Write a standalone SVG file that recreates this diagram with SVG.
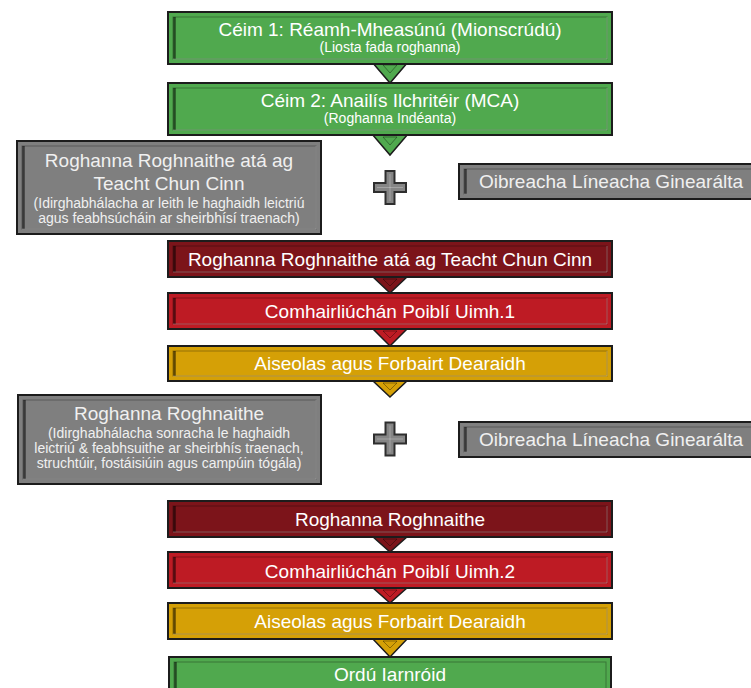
<svg xmlns="http://www.w3.org/2000/svg" width="751" height="688" viewBox="0 0 751 688">
<style>
.o{stroke:#1c1c1c;stroke-width:2}
.g{fill:#50a94e}.dr{fill:#7c141a}.r{fill:#be1b24}.y{fill:#d5a006}.gr{fill:#7f7f7f}
.in{fill:none;stroke:rgba(0,0,0,0.3);stroke-width:1}
.ls{fill:none;stroke:rgba(0,0,0,0.55);stroke-width:2.5}
.hl{fill:none;stroke:rgba(255,255,255,0.3);stroke-width:1}
.tri{stroke:#1c1c1c;stroke-width:1.5;stroke-linejoin:miter}
.tin{fill:none;stroke:rgba(0,0,0,0.35);stroke-width:1}
text{font-family:"Liberation Sans",Arial,sans-serif;fill:#ffffff;text-anchor:middle}
.m{font-size:19px}.s{font-size:14px}
.gt{fill:#f0f0f0}
.plus{fill:#858585;stroke:#2e2e2e;stroke-width:2;stroke-linejoin:miter}
.pin{fill:none;stroke:rgba(255,255,255,0.25);stroke-width:1}
</style>
<g id="connectors">
<polygon class="tri g" points="372,62 408,62 390,83"/><polygon class="tin" points="383,65 397,65 390,73"/>
<polygon class="tri g" points="372,134 408,134 390,155"/><polygon class="tin" points="383,137 397,137 390,145"/>
<polygon class="tri dr" points="372,276 408,276 390,293"/><polygon class="tin" points="383,279 397,279 390,286"/>
<polygon class="tri r" points="372,328 408,328 390,346"/><polygon class="tin" points="383,331 397,331 390,338"/>
<polygon class="tri y" points="372,380 408,380 390,397"/><polygon class="tin" points="383,383 397,383 390,390"/>
<polygon class="tri dr" points="372,536 408,536 390,552"/><polygon class="tin" points="383,539 397,539 390,546"/>
<polygon class="tri r" points="372,587 408,587 390,603"/><polygon class="tin" points="383,590 397,590 390,597"/>
<polygon class="tri y" points="372,638 408,638 390,657"/><polygon class="tin" points="383,641 397,641 390,648"/>
</g>
<g id="step1">
<rect class="o g" x="168" y="12" width="444" height="52"/>
<rect class="in" x="173" y="17" width="434" height="42"/><path class="ls" d="M174.5,17 V59"/><path class="hl" d="M173,59 H607 V17"/>
<text class="m" x="390" y="36">Céim 1: Réamh-Mheasúnú (Mionscrúdú)</text>
<text class="s" x="390" y="52">(Liosta fada roghanna)</text>
</g>
<g id="step2">
<rect class="o g" x="168" y="83" width="444" height="52"/>
<rect class="in" x="173" y="88" width="434" height="42"/><path class="ls" d="M174.5,88 V130"/><path class="hl" d="M173,130 H607 V88"/>
<text class="m" x="390" y="107">Céim 2: Anailís Ilchritéir (MCA)</text>
<text class="s" x="390" y="123">(Roghanna Indéanta)</text>
</g>
<g id="emerging-options-grey">
<rect class="o gr" x="17" y="141" width="304" height="93"/>
<rect class="in" x="22" y="146" width="294" height="83"/><path class="ls" d="M23.5,146 V229"/><path class="hl" d="M22,229 H316 V146"/>
<text class="m gt" x="169" y="167">Roghanna Roghnaithe atá ag</text>
<text class="m gt" x="169" y="190">Teacht Chun Cinn</text>
<text class="s gt" x="169" y="207.5">(Idirghabhálacha ar leith le haghaidh leictriú</text>
<text class="s gt" x="169" y="222.5">agus feabhsúcháin ar sheirbhísí traenach)</text>
</g>
<g id="plus1">
<polygon class="plus" points="385.5,171 394.5,171 394.5,183 406,183 406,192 394.5,192 394.5,204 385.5,204 385.5,192 374,192 374,183 385.5,183"/>
<path class="pin" d="M390,174 V201 M377,187.5 H403"/>
</g>
<g id="general-line-works-1">
<rect class="o gr" x="459" y="164" width="304" height="35"/>
<rect class="in" x="464" y="169" width="294" height="25"/><path class="ls" d="M465.5,169 V194"/><path class="hl" d="M464,194 H758"/>
<text class="m gt" x="611" y="188">Oibreacha Líneacha Ginearálta</text>
</g>
<g id="emerging-options">
<rect class="o dr" x="168" y="241" width="444" height="36"/>
<rect class="in" x="173" y="246" width="434" height="26"/><path class="ls" d="M174.5,246 V272"/><path class="hl" d="M173,272 H607 V246"/>
<text class="m" x="390" y="266">Roghanna Roghnaithe atá ag Teacht Chun Cinn</text>
</g>
<g id="consultation1">
<rect class="o r" x="168" y="293" width="444" height="36"/>
<rect class="in" x="173" y="298" width="434" height="26"/><path class="ls" d="M174.5,298 V324"/><path class="hl" d="M173,324 H607 V298"/>
<text class="m" x="390" y="318">Comhairliúchán Poiblí Uimh.1</text>
</g>
<g id="feedback1">
<rect class="o y" x="168" y="346" width="444" height="35"/>
<rect class="in" x="173" y="351" width="434" height="25"/><path class="ls" d="M174.5,351 V376"/><path class="hl" d="M173,376 H607 V351"/>
<text class="m" x="390" y="370">Aiseolas agus Forbairt Dearaidh</text>
</g>
<g id="preferred-option-grey">
<rect class="o gr" x="18" y="395" width="303" height="89"/>
<rect class="in" x="23" y="400" width="293" height="79"/><path class="ls" d="M24.5,400 V479"/><path class="hl" d="M23,479 H316 V400"/>
<text class="m gt" x="169" y="420">Roghanna Roghnaithe</text>
<text class="s gt" x="169" y="438">(Idirghabhálacha sonracha le haghaidh</text>
<text class="s gt" x="169" y="453">leictriú &amp; feabhsuithe ar sheirbhís traenach,</text>
<text class="s gt" x="169" y="468">struchtúir, fostáisiúin agus campúin tógála)</text>
</g>
<g id="plus2">
<polygon class="plus" points="385.5,422.5 394.5,422.5 394.5,434.5 406,434.5 406,443.5 394.5,443.5 394.5,455.5 385.5,455.5 385.5,443.5 374,443.5 374,434.5 385.5,434.5"/>
<path class="pin" d="M390,425.5 V452.5 M377,439 H403"/>
</g>
<g id="general-line-works-2">
<rect class="o gr" x="459" y="422" width="304" height="35"/>
<rect class="in" x="464" y="427" width="294" height="25"/><path class="ls" d="M465.5,427 V452"/><path class="hl" d="M464,452 H758"/>
<text class="m gt" x="611" y="446">Oibreacha Líneacha Ginearálta</text>
</g>
<g id="preferred-option">
<rect class="o dr" x="168" y="501" width="444" height="36"/>
<rect class="in" x="173" y="506" width="434" height="26"/><path class="ls" d="M174.5,506 V532"/><path class="hl" d="M173,532 H607 V506"/>
<text class="m" x="390" y="526">Roghanna Roghnaithe</text>
</g>
<g id="consultation2">
<rect class="o r" x="168" y="552" width="444" height="36"/>
<rect class="in" x="173" y="557" width="434" height="26"/><path class="ls" d="M174.5,557 V583"/><path class="hl" d="M173,583 H607 V557"/>
<text class="m" x="390" y="578">Comhairliúchán Poiblí Uimh.2</text>
</g>
<g id="feedback2">
<rect class="o y" x="168" y="603" width="444" height="36"/>
<rect class="in" x="173" y="608" width="434" height="26"/><path class="ls" d="M174.5,608 V634"/><path class="hl" d="M173,634 H607 V608"/>
<text class="m" x="390" y="628">Aiseolas agus Forbairt Dearaidh</text>
</g>
<g id="railway-order">
<rect class="o g" x="169" y="657" width="442" height="40"/>
<rect class="in" x="174" y="662" width="432" height="30"/><path class="ls" d="M175.5,662 V692"/>
<text class="m" x="390" y="681">Ordú Iarnróid</text>
</g>
</svg>
